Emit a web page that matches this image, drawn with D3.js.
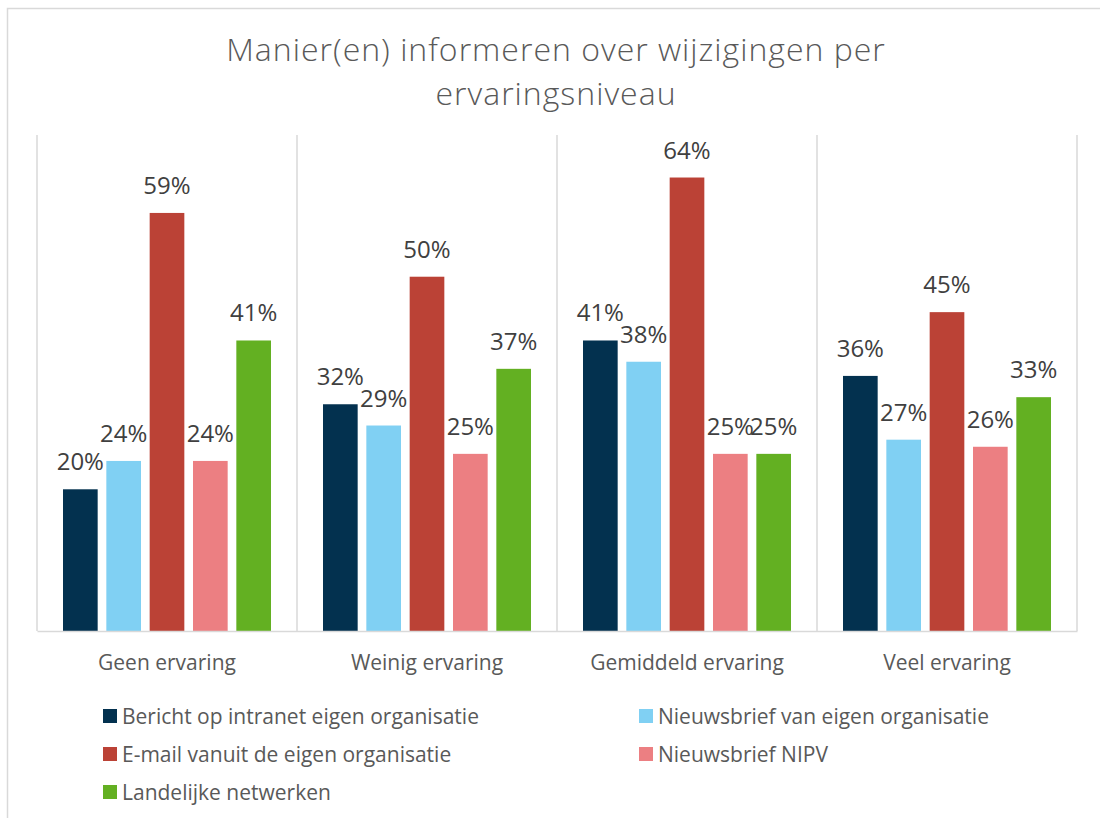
<!DOCTYPE html>
<html>
<head>
<meta charset="utf-8">
<script src="https://cdn.jsdelivr.net/npm/d3@7"></script>
<style>
  html, body { margin: 0; padding: 0; background: #fff; }
  svg { display: block; font-family: "Open Sans", "Noto Sans", sans-serif; }
</style>
</head>
<body>
<svg id="chart" width="1100" height="818"></svg>
<script>
// Ervaringsniveaus (categorieën op de x-as)
const categories = ["Geen ervaring", "Weinig ervaring", "Gemiddeld ervaring", "Veel ervaring"];

// Informatiekanalen (series)
const seriesNames = [
  "Bericht op intranet eigen organisatie",
  "Nieuwsbrief van eigen organisatie",
  "E-mail vanuit de eigen organisatie",
  "Nieuwsbrief NIPV",
  "Landelijke netwerken"
];

// Percentages per kanaal, in de volgorde van de categorieën
const intranet     = [0.20, 0.32, 0.41, 0.36];
const nieuwsbrief  = [0.24, 0.29, 0.38, 0.27];
const email        = [0.59, 0.50, 0.64, 0.45];
const nipv         = [0.24, 0.25, 0.25, 0.26];
const netwerken    = [0.41, 0.37, 0.25, 0.33];

const seriesValues = [intranet, nieuwsbrief, email, nipv, netwerken];
const seriesColors = ["#03314f", "#80d0f3", "#bb4236", "#ec7f82", "#63b022"];

const title = ["Manier(en) informeren over wijzigingen per", "ervaringsniveau"];

const svg = d3.select("#chart");

// Rand om het diagram
svg.append("rect")
  .attr("x", 7.5).attr("y", 8.5)
  .attr("width", 1200).attr("height", 900)
  .attr("fill", "none")
  .attr("stroke", "#d9d9d9")
  .attr("stroke-width", 1.5);

// Titel over twee regels
svg.append("g").selectAll("text")
  .data(title)
  .join("text")
  .attr("x", 556)
  .attr("y", (d, i) => 61 + i * 44)
  .attr("text-anchor", "middle")
  .attr("font-size", 32)
  .attr("font-weight", 300)
  .attr("letter-spacing", 1)
  .attr("fill", "#595959")
  .text(d => d);

const plot = { left: 37, right: 1077, top: 135, bottom: 631 };

const x0 = d3.scaleBand()
  .domain(categories)
  .range([plot.left, plot.right])
  .padding(0);

const x1 = d3.scaleBand()
  .domain(d3.range(seriesNames.length))
  .range([0, x0.bandwidth()])
  .paddingInner(0.2)
  .paddingOuter(0.6);

const y = d3.scaleLinear()
  .domain([0, 0.7])
  .range([plot.bottom, plot.top]);

// Verticale scheidingslijnen tussen categorieën
const boundaries = categories.map(c => x0(c)).concat([x0(categories[categories.length - 1]) + x0.bandwidth()]);
svg.append("g").selectAll("line")
  .data(boundaries)
  .join("line")
  .attr("x1", d => d).attr("x2", d => d)
  .attr("y1", plot.top).attr("y2", plot.bottom)
  .attr("stroke", "#d9d9d9")
  .attr("stroke-width", 1.5);

// Staven
const groups = svg.append("g").selectAll("g")
  .data(categories)
  .join("g")
  .attr("transform", c => `translate(${x0(c)},0)`);

const cells = groups.selectAll("g")
  .data((c, ci) => seriesValues.map((vals, si) => ({ si, v: vals[ci] })))
  .join("g");

cells.append("rect")
  .attr("x", d => x1(d.si))
  .attr("y", d => y(d.v))
  .attr("width", x1.bandwidth())
  .attr("height", d => y(0) - y(d.v))
  .attr("fill", d => seriesColors[d.si]);

cells.append("text")
  .attr("x", d => x1(d.si) + x1.bandwidth() / 2)
  .attr("y", d => y(d.v) - 19)
  .attr("text-anchor", "middle")
  .attr("font-size", 24)
  .attr("fill", "#404040")
  .text(d => d3.format(".0%")(d.v));

// x-as
const xAxis = svg.append("g")
  .attr("transform", `translate(0,${plot.bottom})`)
  .call(d3.axisBottom(x0).tickSize(0).tickPadding(24));
xAxis.select(".domain").attr("stroke", "#d9d9d9").attr("stroke-width", 1.5);
xAxis.selectAll("text")
  .attr("font-family", "Open Sans, Noto Sans, sans-serif")
  .attr("font-size", 21)
  .attr("fill", "#595959");

// Legenda
const legendPos = [
  [103, 716], [639, 716],
  [103, 754], [639, 754],
  [103, 792]
];
const legend = svg.append("g").selectAll("g")
  .data(seriesNames)
  .join("g")
  .attr("transform", (d, i) => `translate(${legendPos[i][0]},${legendPos[i][1]})`);
legend.append("rect")
  .attr("x", 0).attr("y", -7)
  .attr("width", 14).attr("height", 14)
  .attr("fill", (d, i) => seriesColors[i]);
legend.append("text")
  .attr("x", 19).attr("y", 7.5)
  .attr("font-size", 21)
  .attr("fill", "#595959")
  .text(d => d);
</script>
</body>
</html>
